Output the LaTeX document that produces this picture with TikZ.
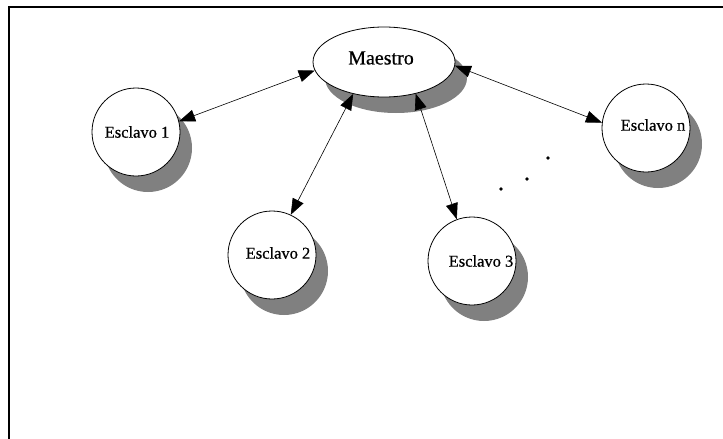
\documentclass[tikz,border=0pt]{standalone}
\usepackage{fontspec}
\setmainfont{Liberation Serif}
\newfontfamily\lblfont{Liberation Serif}[FakeBold=0.6]
\usetikzlibrary{arrows.meta,shapes.geometric,shadows}

\tikzset{
  shade/.style={drop shadow={shadow xshift=12pt, shadow yshift=-16pt,
                fill=black!50, opacity=1}},
  master/.style={ellipse, draw=black, line width=0.8pt, fill=white, shade,
                 minimum width=142pt, minimum height=70pt, inner sep=0pt},
  slave/.style={circle, draw=black, line width=0.8pt, fill=white, shade,
                minimum size=88pt, inner sep=0pt},
  slavetext/.style={font=\lblfont\fontsize{16.5}{18}\selectfont},
  link/.style={line width=0.6pt, {Triangle[length=16pt,width=12pt]}-{Triangle[length=16pt,width=12pt]}},
  dot/.style={circle, fill=black, inner sep=0pt, minimum size=3.6pt}
}

\begin{document}
\begin{tikzpicture}[x=1pt, y=-1pt]
  \useasboundingbox (0,0) rectangle (723,439);
  % frame
  \draw[line width=2.5pt] (9,441) -- (9,7) -- (725,7);

  % nodes
  \node[master, label={[font=\lblfont\fontsize{20}{22}\selectfont, xshift=-3pt, yshift=4pt]center:Maestro}] (m) at (384,62) {};
  \node[slave, label={[slavetext, xshift=1pt, yshift=0pt]center:Esclavo 1}] (e1) at (136,132) {};
  \node[slave, label={[slavetext, xshift=6pt, yshift=2pt]center:Esclavo 2}] (e2) at (272,255) {};
  \node[slave, label={[slavetext, xshift=9pt, yshift=0pt]center:Esclavo 3}] (e3) at (472,261) {};
  \node[slave, label={[slavetext, xshift=7pt, yshift=3pt]center:Esclavo n}] (en) at (646,128) {};

  % connectors
  \draw[link] (m.187) -- (e1.14);
  \draw[link] (m.226) -- (e2.65);
  \draw[link] (m.315) -- (e3.110);
  \draw[link] (m.357) -- (en.173);

  % ellipsis dots
  \node[dot] (d1) at (501,189) {};
  \node[dot] (d2) at (527,179) {};
  \node[dot] (d3) at (548,158) {};
\end{tikzpicture}
\end{document}
